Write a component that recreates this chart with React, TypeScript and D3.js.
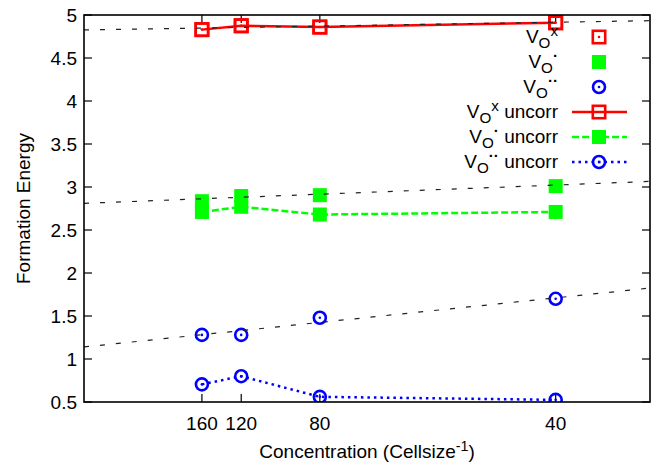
import React from "react";
import * as d3 from "d3";

// cell sizes (x is plotted as 1/cellsize)
const cellSizes = [160, 120, 80, 40];

const vxCorr = [4.83, 4.875, 4.86, 4.91];
const vxUncorr = [4.83, 4.875, 4.86, 4.91];
const v1Corr = [2.835, 2.895, 2.905, 3.01];
const v1Uncorr = [2.71, 2.77, 2.68, 2.71];
const v2Corr = [1.28, 1.28, 1.48, 1.7];
const v2Uncorr = [0.705, 0.8, 0.56, 0.525];

// linear fits (endpoints, in 1/cellsize)
const fitX = [0, 0.03];
const vxFit = [4.826, 4.934];
const v1Fit = [2.81, 3.065];
const v2Fit = [1.14, 1.825];

const yTicks = [0.5, 1, 1.5, 2, 2.5, 3, 3.5, 4, 4.5, 5];

const W = 656;
const H = 466;
const L = 84, R = 650, T = 15, B = 402;
const FONT = "'Liberation Sans', Arial, Helvetica, sans-serif";
const FS = 19;

const RED = "#ff0000";
const GREEN = "#00ff00";
const BLUE = "#0000ff";

const x = d3.scaleLinear().domain([0, 0.03]).range([L, R]);
const y = d3.scaleLinear().domain([0.5, 5]).range([B, T]);

type Pt = [number, number];
const pts = (vals: number[]): Pt[] => cellSizes.map((c, i) => [x(1 / c), y(vals[i])]);
const line = d3.line<Pt>();
const fitLine = (vals: number[]) => line(fitX.map((f, i) => [x(f), y(vals[i])] as Pt));

const Square = ({ cx, cy, dot }: { cx: number; cy: number; dot?: boolean }) => (
  <g>
    <rect x={cx - 6.2} y={cy - 6.2} width={12.4} height={12.4} fill="none" stroke={RED} strokeWidth={2.6} />
    {dot && <circle cx={cx} cy={cy} r={1.3} fill={RED} />}
  </g>
);
const Filled = ({ cx, cy }: { cx: number; cy: number }) => (
  <rect x={cx - 7} y={cy - 7} width={14} height={14} fill={GREEN} />
);
const Circ = ({ cx, cy }: { cx: number; cy: number }) => (
  <g>
    <circle cx={cx} cy={cy} r={6} fill="none" stroke={BLUE} strokeWidth={2.6} />
    <circle cx={cx} cy={cy} r={1.3} fill={BLUE} />
  </g>
);

const legendRows = [
  { sup: "x", tail: "", kind: "sq" },
  { sup: "\u00b7", tail: "", kind: "fill" },
  { sup: "\u00b7\u00b7", tail: "", kind: "circ" },
  { sup: "x", tail: " uncorr", kind: "sqLine" },
  { sup: "\u00b7", tail: " uncorr", kind: "fillLine" },
  { sup: "\u00b7\u00b7", tail: " uncorr", kind: "circLine" },
];

export default function App() {
  const legX = 558;
  const sx0 = 572, sx1 = 627, mx = 599;
  return (
    <svg width={W} height={H} style={{ position: "absolute", left: 0, top: 0, background: "#fff" }} fontFamily={FONT}>
      <defs>
        <clipPath id="plot">
          <rect x={L} y={T} width={R - L} height={B - T} />
        </clipPath>
      </defs>

      {/* ticks */}
      {yTicks.map((t) => (
        <g key={"y" + t} stroke="#000" strokeWidth={1.2}>
          <line x1={L} x2={L + 8} y1={y(t)} y2={y(t)} />
          <line x1={R} x2={R - 8} y1={y(t)} y2={y(t)} />
        </g>
      ))}
      {cellSizes.map((c) => (
        <g key={"x" + c} stroke="#000" strokeWidth={1.2}>
          <line x1={x(1 / c)} x2={x(1 / c)} y1={B} y2={B - 8} />
          <line x1={x(1 / c)} x2={x(1 / c)} y1={T} y2={T + 8} />
        </g>
      ))}
      {yTicks.map((t) => (
        <text key={"yl" + t} x={L - 7} y={y(t) + 6.5} textAnchor="end" fontSize={FS}>
          {t}
        </text>
      ))}
      {cellSizes.map((c) => (
        <text key={"xl" + c} x={x(1 / c)} y={430} textAnchor="middle" fontSize={FS}>
          {c}
        </text>
      ))}

      <text x={(L + R) / 2} y={458} textAnchor="middle" fontSize={FS}>
        Concentration (Cellsize
        <tspan dy={-7} fontSize={FS * 0.75}>-1</tspan>
        <tspan dy={7}>)</tspan>
      </text>
      <text transform={`translate(30,${(T + B) / 2}) rotate(-90)`} textAnchor="middle" fontSize={FS}>
        Formation Energy
      </text>

      <g clipPath="url(#plot)">
        {/* corrected points */}
        {pts(vxCorr).map(([cx, cy], i) => <Square key={"a" + i} cx={cx} cy={cy} dot />)}
        {pts(v1Corr).map(([cx, cy], i) => <Filled key={"b" + i} cx={cx} cy={cy} />)}
        {pts(v2Corr).map(([cx, cy], i) => <Circ key={"c" + i} cx={cx} cy={cy} />)}

        {/* uncorrected */}
        <path d={line(pts(vxUncorr)) || ""} fill="none" stroke={RED} strokeWidth={2.5} />
        {pts(vxUncorr).map(([cx, cy], i) => <Square key={"d" + i} cx={cx} cy={cy} />)}
        <path d={line(pts(v1Uncorr)) || ""} fill="none" stroke={GREEN} strokeWidth={2.5} strokeDasharray="7,3" />
        {pts(v1Uncorr).map(([cx, cy], i) => <Filled key={"e" + i} cx={cx} cy={cy} />)}
        <path d={line(pts(v2Uncorr)) || ""} fill="none" stroke={BLUE} strokeWidth={2.5} strokeDasharray="2.5,4" />
        {pts(v2Uncorr).map(([cx, cy], i) => <Circ key={"f" + i} cx={cx} cy={cy} />)}

        {/* fits */}
        {[vxFit, v1Fit, v2Fit].map((f, i) => (
          <path key={"fit" + i} d={fitLine(f) || ""} fill="none" stroke="#222" strokeWidth={1.2} strokeDasharray="5,11" />
        ))}
      </g>

      {/* legend */}
      {legendRows.map((r, i) => {
        const cy = 37 + i * 25;
        return (
          <g key={"lg" + i}>
            <text x={legX} y={cy + 6} textAnchor="end" fontSize={FS}>
              V
              <tspan dy={5} fontSize={FS * 0.8}>O</tspan>
              <tspan dy={-12} fontSize={FS * 0.8} fontWeight={r.sup === "x" ? "normal" : "bold"}>{r.sup}</tspan>
              <tspan dy={7}>{r.tail}</tspan>
            </text>
            {r.kind === "sq" && <Square cx={mx} cy={cy} dot />}
            {r.kind === "fill" && <Filled cx={mx} cy={cy} />}
            {r.kind === "circ" && <Circ cx={mx} cy={cy} />}
            {r.kind === "sqLine" && (
              <g>
                <line x1={sx0} x2={sx1} y1={cy} y2={cy} stroke={RED} strokeWidth={2.5} />
                <Square cx={mx} cy={cy} />
              </g>
            )}
            {r.kind === "fillLine" && (
              <g>
                <line x1={sx0} x2={sx1} y1={cy} y2={cy} stroke={GREEN} strokeWidth={2.5} strokeDasharray="7,3" />
                <Filled cx={mx} cy={cy} />
              </g>
            )}
            {r.kind === "circLine" && (
              <g>
                <line x1={sx0} x2={sx1} y1={cy} y2={cy} stroke={BLUE} strokeWidth={2.5} strokeDasharray="2.5,4" />
                <Circ cx={mx} cy={cy} />
              </g>
            )}
          </g>
        );
      })}

      <rect x={L} y={T} width={R - L} height={B - T} fill="none" stroke="#000" strokeWidth={1.6} />
    </svg>
  );
}
